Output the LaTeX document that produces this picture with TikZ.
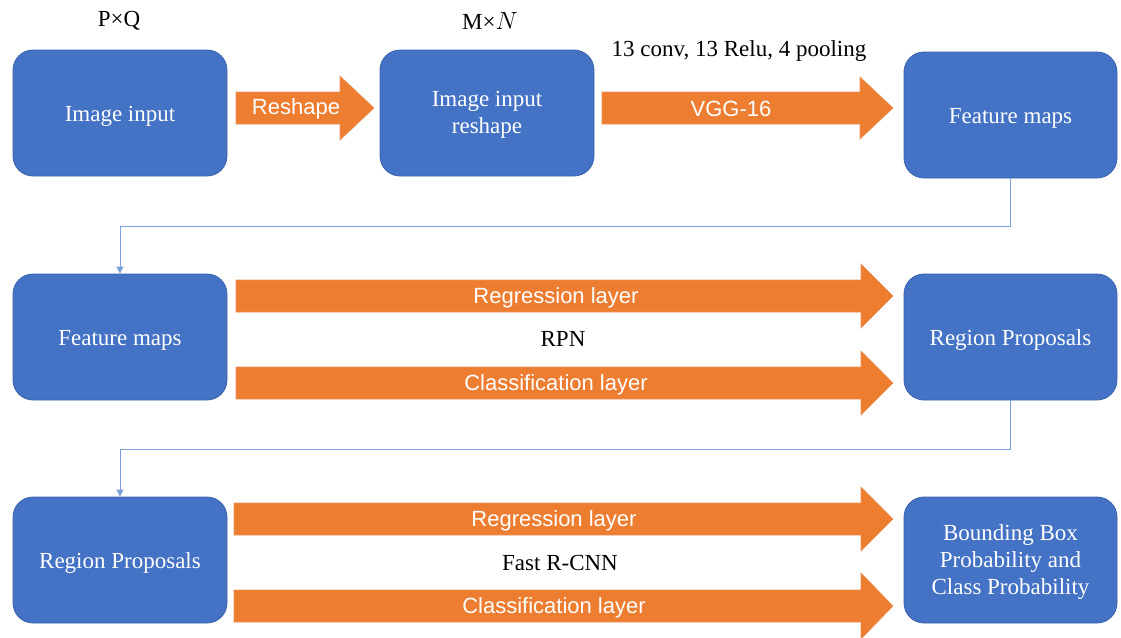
\documentclass[tikz,border=0pt]{standalone}
\usepackage{fontspec}
\setmainfont{Liberation Serif}
\newfontfamily\arrowfont{Liberation Sans}
\usetikzlibrary{arrows.meta}
\definecolor{boxblue}{HTML}{4472C4}
\definecolor{boxedge}{HTML}{3B63AD}
\definecolor{arrorange}{HTML}{ED7D31}
\definecolor{arredge}{HTML}{E9935A}
\definecolor{linkblue}{HTML}{7C9FDB}
\tikzset{
  x=1pt, y=-1pt,
  block/.style={draw=boxedge, line width=0.8pt, fill=boxblue, rounded corners=20pt,
    minimum height=126pt, inner sep=0pt},
  boxtext/.style={text=white, align=center, font=\fontsize{23}{27}\selectfont, inner sep=0pt},
  fat/.style={fill=arrorange, draw=arredge, line width=0.6pt},
  arrlabel/.style={text=white, font=\arrowfont\fontsize{22}{26}\selectfont, inner sep=0pt},
  caption/.style={text=black, font=\fontsize{23}{27}\selectfont, inner sep=0pt},
  link/.style={draw=linkblue, line width=0.9pt, -{Triangle[length=7pt,width=7pt]}}
}
\begin{document}
\begin{tikzpicture}
\useasboundingbox (0,0) rectangle (1121,637);
\fill[white] (0,0) rectangle (1121,637);

% boxes
\node[block, minimum width=214pt] (in) at (120,113) {};
\node[boxtext] (intext) at ([yshift=-3pt]in.center) {Image input};
\node[block, minimum width=214pt] (rs) at (487,113) {};
\node[boxtext] (rstext) at ([yshift=-2pt]rs.center) {Image input\\reshape};
\node[block, minimum width=213pt] (fm1) at (1010.5,115) {};
\node[boxtext] (fm1text) at ([yshift=-3pt]fm1.center) {Feature maps};
\node[block, minimum width=214pt] (fm2) at (120,337) {};
\node[boxtext] (fm2text) at ([yshift=-3pt]fm2.center) {Feature maps};
\node[block, minimum width=213pt] (rp1) at (1010.5,337) {};
\node[boxtext] (rp1text) at ([yshift=-3pt]rp1.center) {Region Proposals};
\node[block, minimum width=214pt] (rp2) at (120,560) {};
\node[boxtext] (rp2text) at ([yshift=-3pt]rp2.center) {Region Proposals};
\node[block, minimum width=213pt] (out) at (1010.5,560) {};
\node[boxtext] (outtext) at ([yshift=-2pt]out.center) {Bounding Box\\Probability and\\Class Probability};

% captions
\node[caption] (pq) at (119,21) {P×Q};
\node[caption] (mn) at (490,21) {M×$N$};
\node[caption] (vggcap) at (739,51) {13 conv, 13 Relu, 4 pooling};
\node[caption] (rpn) at (563,339) {RPN};
\node[caption] (frcnn) at (560,563) {Fast R-CNN};

% block arrows
\path[fat] (236,92) -- (340,92) -- (340,76) -- (374,108) -- (340,140) -- (340,124) -- (236,124) -- cycle;
\node[arrlabel] (reshape) at (296,109) {Reshape};

\path[fat] (602,92) -- (860,92) -- (860,77) -- (893,108) -- (860,139) -- (860,124) -- (602,124) -- cycle;
\node[arrlabel] (vgg) at (731,109) {VGG-16};

\path[fat] (236,280) -- (861,280) -- (861,264) -- (893,296) -- (861,328) -- (861,312) -- (236,312) -- cycle;
\node[arrlabel] (reg1) at (556,298) {Regression layer};

\path[fat] (236,367) -- (861,367) -- (861,351) -- (893,383) -- (861,415) -- (861,399) -- (236,399) -- cycle;
\node[arrlabel] (cls1) at (556,385) {Classification layer};

\path[fat] (234,503) -- (861,503) -- (861,487) -- (893,519) -- (861,551) -- (861,535) -- (234,535) -- cycle;
\node[arrlabel] (reg2) at (554,521) {Regression layer};

\path[fat] (234,590) -- (861,590) -- (861,573) -- (893,606) -- (861,639) -- (861,622) -- (234,622) -- cycle;
\node[arrlabel] (cls2) at (554,608) {Classification layer};

% connectors
\coordinate (b1) at (1010.5,226);
\coordinate (b2) at (120,226);
\draw[link] (fm1.south) -- (b1) -- (b2) -- (fm2.north);
\coordinate (c1) at (1010.5,449);
\coordinate (c2) at (120,449);
\draw[link] (rp1.south) -- (c1) -- (c2) -- (rp2.north);
\end{tikzpicture}
\end{document}
